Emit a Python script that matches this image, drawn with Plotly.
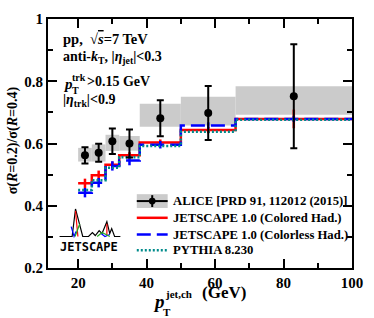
import plotly.graph_objects as go

# ---------------- data ----------------
bin_edges = [20, 24, 28, 32, 38, 50, 66, 100]
alice_x = [22, 26, 30, 35, 44, 58, 83]
alice_y = [0.562, 0.570, 0.607, 0.600, 0.681, 0.698, 0.752]
alice_stat = [0.026, 0.029, 0.041, 0.045, 0.058, 0.087, 0.167]
alice_sys_lo = [0.542, 0.542, 0.576, 0.577, 0.654, 0.658, 0.692]
alice_sys_hi = [0.586, 0.597, 0.628, 0.624, 0.728, 0.750, 0.784]

colored_y = [0.472, 0.498, 0.532, 0.562, 0.603, 0.643, 0.679]
colored_err = [0.015, 0.015, 0.010, 0.010, 0.010, 0.010, 0.030]
colorless_y = [0.442, 0.474, 0.528, 0.545, 0.596, 0.658, 0.679]
colorless_err = [0.015, 0.015, 0.015, 0.015, 0.012, 0.010, 0.010]
pythia_y = [0.451, 0.482, 0.522, 0.556, 0.592, 0.638, 0.676]

x_ticks = [20, 40, 60, 80, 100]
y_ticks = [0.2, 0.4, 0.6, 0.8, 1.0]

legend_labels = ["ALICE [PRD 91, 112012 (2015)]",
                 "JETSCAPE 1.0 (Colored Had.)",
                 "JETSCAPE 1.0 (Colorless Had.)",
                 "PYTHIA 8.230"]

# ---------------- geometry ----------------
W, H = 374, 318
L, R, T, B = 48, 363, 15, 268
FONT = "Liberation Serif"


def px(x):
    return (x - L) / (R - L)


def py(y):
    return (B - y) / (B - T)


widths = [bin_edges[i + 1] - bin_edges[i] for i in range(len(bin_edges) - 1)]
centers = [(bin_edges[i + 1] + bin_edges[i]) / 2 for i in range(len(bin_edges) - 1)]

fig = go.Figure()

# systematic boxes
fig.add_trace(go.Bar(
    x=centers, base=alice_sys_lo,
    y=[h - l for h, l in zip(alice_sys_hi, alice_sys_lo)],
    width=widths, marker=dict(color="#cbcbcb", line=dict(width=0)),
    showlegend=False, hoverinfo="skip"))


def step(vals):
    return list(bin_edges), list(vals) + [vals[-1]]


RED, BLUE, TEAL = "#ff0000", "#0000ff", "#008b8b"

for vals, errs, col, dash in [(colored_y, colored_err, RED, "solid"),
                              (colorless_y, colorless_err, BLUE, "14px,6px"),
                              (pythia_y, None, TEAL, "2px,2px")]:
    sx, sy = step(vals)
    fig.add_trace(go.Scatter(x=sx, y=sy, mode="lines", line_shape="hv",
                             line=dict(color=col, width=2.5, dash=dash),
                             showlegend=False, hoverinfo="skip"))
    if errs is not None:
        fig.add_trace(go.Scatter(x=centers, y=vals, mode="markers",
                                 marker=dict(size=1, color=col, opacity=0),
                                 error_y=dict(type="data", array=errs, color=col,
                                              thickness=2.5, width=0),
                                 showlegend=False, hoverinfo="skip"))

# ALICE data
fig.add_trace(go.Scatter(x=alice_x, y=alice_y, mode="markers",
                         marker=dict(size=8, color="black"),
                         error_y=dict(type="data", array=alice_stat, color="black",
                                      thickness=2, width=3.5),
                         showlegend=False, hoverinfo="skip"))

axis_common = dict(showline=True, linecolor="black", linewidth=2, mirror="allticks",
                   ticks="inside", ticklen=9, tickwidth=1.5, tickcolor="black",
                   showgrid=False, zeroline=False,
                   tickfont=dict(family=FONT, size=15, color="black", weight="bold"))

fig.update_xaxes(range=[11.2, 100], tickvals=x_ticks,
                 minor=dict(dtick=10, tick0=0, ticklen=5, tickwidth=1.5, ticks="inside",
                            tickcolor="black"),
                 **axis_common)
fig.update_yaxes(range=[0.2, 1.0], tickvals=y_ticks, ticktext=["0.2", "0.4", "0.6", "0.8", "1"],
                 minor=dict(dtick=0.1, tick0=0, ticklen=5, tickwidth=1.5, ticks="inside",
                            tickcolor="black"),
                 **axis_common)

ann = []
shapes = []


def text(x, y, s, size, xanchor="left", yanchor="middle", angle=0, family=FONT, color="black"):
    ann.append(dict(x=px(x), y=py(y), xref="paper", yref="paper", text=s, showarrow=False,
                    xanchor=xanchor, yanchor=yanchor, textangle=angle, borderpad=0,
                    font=dict(family=family, size=size, color=color)))


# info text block
text(62, 35, "<b>pp,  √<span style='text-decoration:overline'><i>s</i></span>=7 TeV</b>", 14.5)
text(62, 54, "<b>anti-<i>k</i><sub>T</sub>, |<i>η</i><sub>jet</sub>|&lt;0.3</b>", 14)
text(62, 81, "<b><i>p</i></b>", 15)
text(72, 74, "<b>trk</b>", 10)
text(72, 88, "<b>T</b>", 10)
text(87, 79, "<b>&gt;0.15 GeV</b>", 14)
text(62, 98, "<b>|<i>η</i><sub>trk</sub>|&lt;0.9</b>", 14)

# axis titles
text(12, 138, "<b>σ(<i>R</i>=0.2)/σ(<i>R</i>=0.4)</b>", 14, xanchor="center", angle=-90)
text(156, 302, "<b><i>p</i></b>", 19)
text(166, 313, "<b>T</b>", 11)
text(168, 294, "<b>jet,ch</b>", 11)
text(207, 293, "<b>(GeV)</b>", 17)

# legend
leg_x0, leg_x1 = 140, 172
rows = [200, 217, 234, 250]
shapes.append(dict(type="rect", xref="paper", yref="paper", x0=px(leg_x0), x1=px(leg_x1),
                   y0=py(207), y1=py(193), fillcolor="#cbcbcb", line=dict(width=0)))
shapes.append(dict(type="line", xref="paper", yref="paper", x0=px(leg_x0), x1=px(leg_x1),
                   y0=py(rows[0]), y1=py(rows[0]), line=dict(color="black", width=2)))
shapes.append(dict(type="line", xref="paper", yref="paper", x0=px(156), x1=px(156),
                   y0=py(194), y1=py(206), line=dict(color="black", width=2)))
shapes.append(dict(type="circle", xref="paper", yref="paper", x0=px(152.5), x1=px(159.5),
                   y0=py(203.5), y1=py(196.5), fillcolor="black", line=dict(width=0)))
for yy, col, dash in [(rows[1], RED, "solid"), (rows[2], BLUE, "14px,6px"), (rows[3], TEAL, "2px,2px")]:
    shapes.append(dict(type="line", xref="paper", yref="paper", x0=px(leg_x0), x1=px(leg_x1),
                       y0=py(yy), y1=py(yy), line=dict(color=col, width=2.5, dash=dash)))
for yy, lab in zip(rows, legend_labels):
    text(177, yy, "<b>" + lab + "</b>", 12.7)


# JETSCAPE logo
def path(pts):
    return "M " + " L ".join(f"{px(a)},{py(b)}" for a, b in pts)


logo_lines = [
    ([(60, 236), (73, 236), (76.5, 208), (84, 236), (90, 236), (94, 232), (97, 235),
      (101, 230), (104, 233), (109, 221), (112, 233), (114, 228), (117, 236), (123, 236)], "black"),
    ([(76.5, 210), (79, 236)], RED),
    ([(72, 226), (75, 236), (77, 231)], BLUE),
    ([(76, 236), (81, 223)], "#22aa22"),
    ([(109, 223), (109, 235)], RED),
    ([(103, 233), (107, 236), (112, 234)], BLUE),
    ([(99, 236), (104, 232), (112, 236)], "#22aa22"),
]
for pts, col in logo_lines:
    shapes.append(dict(type="path", xref="paper", yref="paper", path=path(pts),
                       line=dict(color=col, width=1.2)))
text(91, 247, "<b>JETSCAPE</b>", 12, xanchor="center", family="DejaVu Sans Mono")

fig.update_layout(width=W, height=H,
                  margin=dict(l=L, r=W - R, t=T, b=H - B),
                  paper_bgcolor="white", plot_bgcolor="white",
                  barmode="overlay", showlegend=False,
                  annotations=ann, shapes=shapes)

fig.write_html("out.html", config={"displayModeBar": False},
               post_script="document.body.style.margin='0';document.body.style.overflow='hidden';")
